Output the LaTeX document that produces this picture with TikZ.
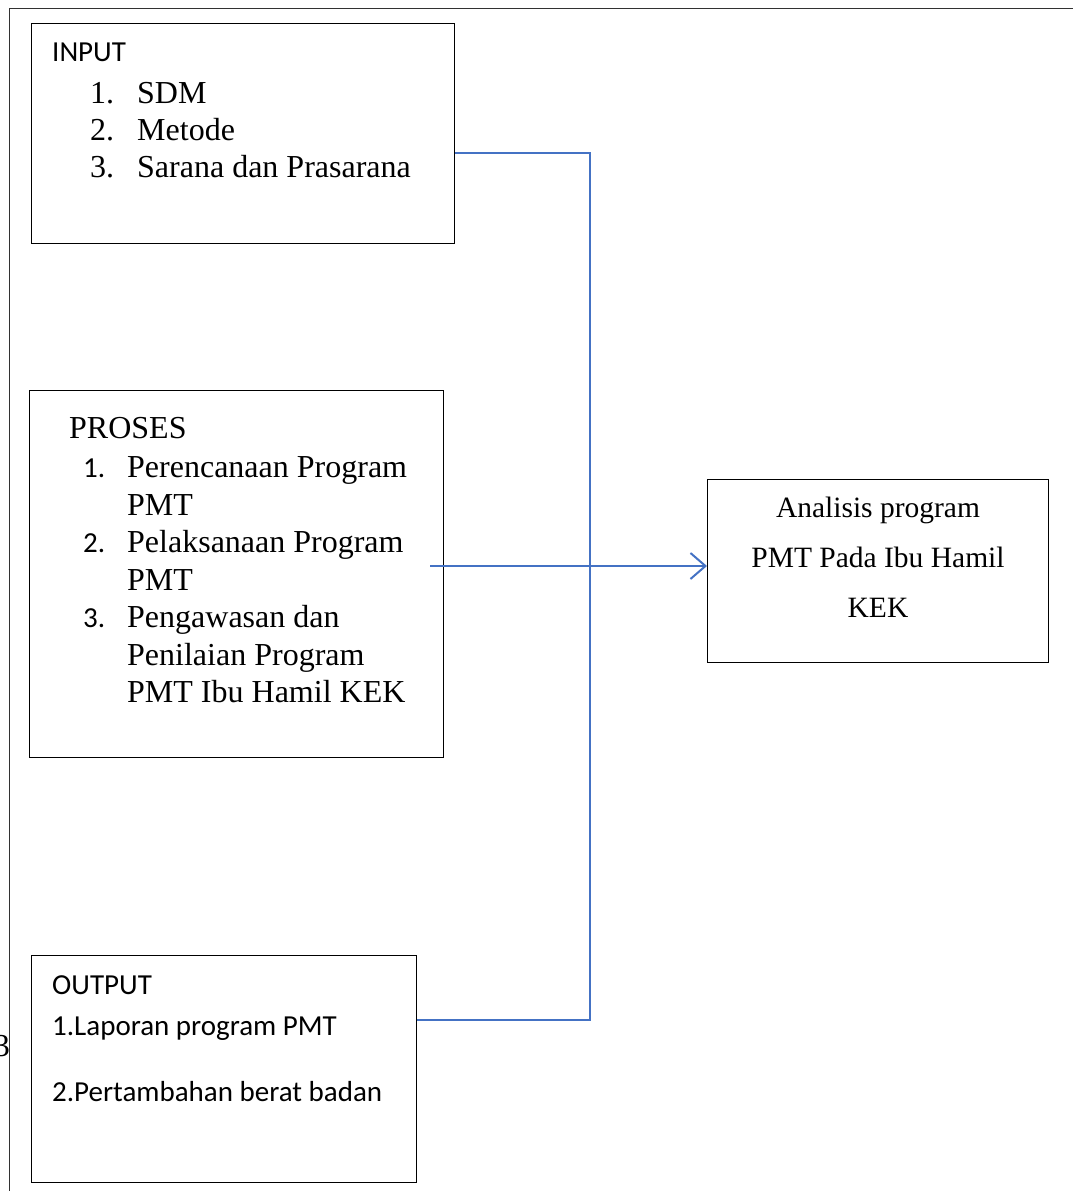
\documentclass[tikz,border=0pt]{standalone}
\usepackage{fontspec}
\setmainfont{Liberation Serif}
\newfontfamily\calib{Carlito}
\usetikzlibrary{arrows.meta}
\definecolor{lineblue}{RGB}{68,114,196}
\definecolor{framegray}{RGB}{50,50,50}
\begin{document}
\begin{tikzpicture}[x=1pt,y=-1pt,
  boxst/.style={draw=black, line width=1.2pt, anchor=north west, inner sep=0pt},
  ser/.style={font=\fontsize{32}{37}\selectfont, anchor=base west, inner sep=0pt},
  sermid/.style={font=\fontsize{29.5}{35}\selectfont, anchor=base, inner sep=0pt},
  san/.style={font=\calib\fontsize{29}{35}\selectfont, anchor=base west, inner sep=0pt},
  conn/.style={draw=lineblue, line width=2pt},
  framest/.style={draw=framegray, line width=1.6pt}]
\useasboundingbox (0,0) rectangle (1073,1191);
\fill[white] (0,0) rectangle (1073,1191);

% stray page number, mostly hidden behind the frame
\node[ser, anchor=base east] (pgnum) at (10,1056) {3};

% outer frame
\coordinate (fbl) at (9.5,1191);
\coordinate (ftl) at (9.5,8.5);
\coordinate (ftr) at (1073,8.5);
\draw[framest] (fbl) -- (ftl) -- (ftr);

% boxes
\node[boxst, minimum width=423pt, minimum height=220pt] (input) at (31,23) {};
\node[boxst, minimum width=414pt, minimum height=367pt] (proses) at (29,390) {};
\node[boxst, minimum width=341pt, minimum height=183pt] (analisis) at (707,479) {};
\node[boxst, minimum width=385pt, minimum height=227pt] (output) at (31,955) {};

% INPUT text
\node[san] (inT) at (52,61) {INPUT};
\node[ser] (in1n) at (90,103) {1.};
\node[ser] (in1) at (137,103) {SDM};
\node[ser] (in2n) at (90,140) {2.};
\node[ser] (in2) at (137,140) {Metode};
\node[ser] (in3n) at (90,177) {3.};
\node[ser] (in3) at (137,177) {Sarana dan Prasarana};

% PROSES text
\node[ser] (prT) at (69,438) {PROSES};
\node[san] (pr1n) at (83,477) {1.};
\node[ser] (pr1a) at (127,477) {Perencanaan Program};
\node[ser] (pr1b) at (127,515) {PMT};
\node[san] (pr2n) at (83,552) {2.};
\node[ser] (pr2a) at (127,552) {Pelaksanaan Program};
\node[ser] (pr2b) at (127,590) {PMT};
\node[san] (pr3n) at (83,627) {3.};
\node[ser] (pr3a) at (127,627) {Pengawasan dan};
\node[ser] (pr3b) at (127,665) {Penilaian Program};
\node[ser] (pr3c) at (127,702) {PMT Ibu Hamil KEK};

% Analisis text
\node[sermid] (an1) at (878,517) {Analisis program};
\node[sermid] (an2) at (878,567) {PMT Pada Ibu Hamil};
\node[sermid] (an3) at (878,617) {KEK};

% OUTPUT text
\node[san] (ouT) at (52,994) {OUTPUT};
\node[san] (ou1) at (52,1035) {1.Laporan program PMT};
\node[san] (ou2) at (52,1101) {2.Pertambahan berat badan};

% connectors
\coordinate (c1) at (590,153);
\coordinate (c2) at (590,1020);
\draw[conn] (input.east |- c1) -- (c1) -- (c2) -- (output.east |- c2);
\coordinate (a0) at (430,566);
\draw[conn, -{Straight Barb[length=15pt, width=26pt, line width=2pt]}] (a0) -- (analisis.west |- a0);
\end{tikzpicture}
\end{document}
